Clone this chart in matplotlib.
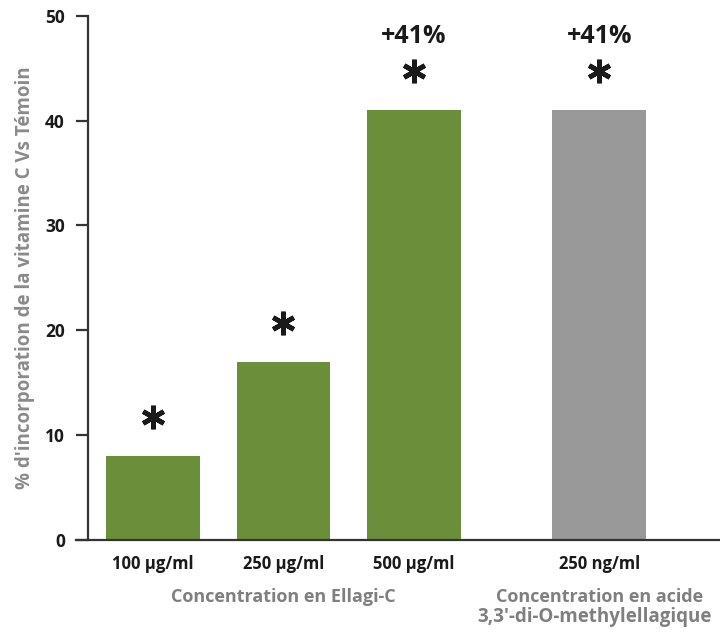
import matplotlib
matplotlib.use("Agg")
import matplotlib.pyplot as plt

plt.rcParams['font.family'] = ['Open Sans', 'DejaVu Sans']
plt.rcParams['font.weight'] = 'bold'
plt.rcParams['axes.labelweight'] = 'bold'

labels = ['100 µg/ml', '250 µg/ml', '500 µg/ml', '250 ng/ml']
values = [8, 17, 41, 41]
colors = ['#6b8e3b', '#6b8e3b', '#6b8e3b', '#999999']
pct_labels = ['', '', '+41%', '+41%']
positions = [0, 1, 2, 3.42]

fig = plt.figure(figsize=(7.2, 6.32), dpi=100)
ax = fig.add_axes([76 / 720, 1 - 540 / 632, 644 / 720, 524.3 / 632])

ax.bar(positions, values, width=0.72, color=colors)

# asterisks and percent labels above the bars
for x, v, p in zip(positions, values, pct_labels):
    ax.plot(x, v + 3.7, marker=(6, 2, 0), markersize=17, mew=3.4,
            color='#1a1a1a', clip_on=False)
    if p:
        ax.annotate(p, (x, v), xytext=(0, 53), textcoords='offset points',
                    ha='center', va='center', fontsize=18, color='#1a1a1a')

ax.set_xlim(-0.59, 4.345)
ax.set_ylim(0, 50)
ax.set_yticks([0, 10, 20, 30, 40, 50])
ax.set_xticks(positions)
ax.set_xticklabels(labels)

for s in ['top', 'right']:
    ax.spines[s].set_visible(False)
ax.spines['left'].set_position(('axes', 12 / 644))
for s in ['left', 'bottom']:
    ax.spines[s].set_linewidth(1.6)
    ax.spines[s].set_color('#333333')

ax.tick_params(axis='y', length=8.6, width=1.6, color='#333333', pad=8,
               labelsize=12.5, labelcolor='#1a1a1a')
ax.tick_params(axis='x', length=0, pad=11, labelsize=12, labelcolor='#1a1a1a')

ax.set_ylabel("% d'incorporation de la vitamine C Vs Témoin",
              fontsize=13.5, color='#8a8a8a')
ax.yaxis.set_label_coords(-0.064, 0.5)

# group labels under the tick labels
trans = ax.get_xaxis_transform()
ax.text(1, -0.108, 'Concentration en Ellagi-C', transform=trans,
        ha='center', va='center', fontsize=13, color='#7f7f7f')
ax.text(3.42, -0.108, 'Concentration en acide', transform=trans,
        ha='center', va='center', fontsize=13, color='#7f7f7f')
ax.text(3.38, -0.146, "3,3'-di-O-methylellagique", transform=trans,
        ha='center', va='center', fontsize=13.5, color='#7f7f7f')

plt.savefig('out.png', dpi=100)
